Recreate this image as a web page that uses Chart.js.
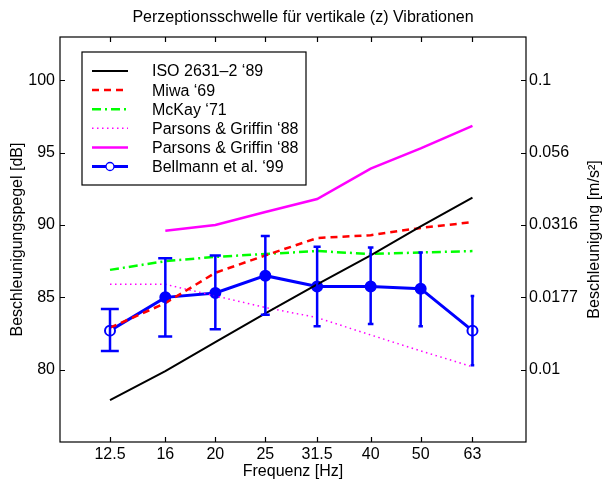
<!DOCTYPE html>
<html>
<head>
<meta charset="utf-8">
<script src="https://cdn.jsdelivr.net/npm/chart.js@4/dist/chart.umd.min.js"></script>
<style>
html, body { margin: 0; padding: 0; background: #fff; }
#wrap { width: 606px; height: 480px; position: relative; }
</style>
</head>
<body>
<div id="wrap"><canvas id="chart"></canvas></div>
<script>
// third-octave centre frequencies [Hz]
const freqs = [12.5, 16, 20, 25, 31.5, 40, 50, 63];

// perception thresholds [dB]
const iso = [77.9, 79.9, 81.9, 83.9, 85.9, 87.9, 89.9, 91.9];
const miwa = [82.9, 84.6, 86.7, 87.9, 89.1, 89.3, 89.8, 90.2];
const mckay = [86.9, 87.5, 87.8, 88.0, 88.2, 88.0, 88.1, 88.2];
const parsonsDot = [85.9, 85.9, 85.1, 84.3, 83.6, 82.4, 81.3, 80.2];
const parsonsSolid = [null, 89.6, 90.0, 90.9, 91.8, 93.9, 95.3, 96.85];
const bellmann = [82.7, 85.0, 85.3, 86.5, 85.75, 85.75, 85.6, 82.7];
const bellmannLo = [81.3, 82.3, 82.8, 83.8, 83.0, 83.15, 83.0, 80.3];
const bellmannHi = [84.2, 87.7, 87.9, 89.25, 88.5, 88.45, 88.1, 85.1];

// axis ticks
const dbTicks = [80, 85, 90, 95, 100];
const accelTicks = ['0.01', '0.0177', '0.0316', '0.056', '0.1'];

const FONT = '"Liberation Sans", Arial, Helvetica, sans-serif';
Chart.defaults.font.family = FONT;
Chart.defaults.font.size = 16;
Chart.defaults.color = '#000';

const pts = (arr) => freqs.map((f, i) => ({ x: f, y: arr[i] }));

// error bars, inward ticks, box, right axis title and legend
const extras = {
    id: 'extras',
    afterDatasetsDraw(chart) {
        const ctx = chart.ctx;
        const xs = chart.scales.x, ys = chart.scales.y;
        ctx.save();
        ctx.strokeStyle = '#0000ff';
        ctx.lineWidth = 2.5;
        freqs.forEach((f, i) => {
            const px = xs.getPixelForValue(f);
            const yl = ys.getPixelForValue(bellmannLo[i]);
            const yh = ys.getPixelForValue(bellmannHi[i]);
            const x0 = xs.getPixelForValue(f - 0.5), x1 = xs.getPixelForValue(f + 0.5);
            ctx.beginPath();
            ctx.moveTo(px, yl); ctx.lineTo(px, yh);
            ctx.moveTo(x0, yl); ctx.lineTo(x1, yl);
            ctx.moveTo(x0, yh); ctx.lineTo(x1, yh);
            ctx.stroke();
        });
        ctx.restore();
    },
    afterDraw(chart) {
        const ctx = chart.ctx;
        const a = chart.chartArea;
        const xs = chart.scales.x, ys = chart.scales.y;
        ctx.save();
        ctx.strokeStyle = '#000';
        ctx.lineWidth = 1.2;
        ctx.strokeRect(a.left, a.top, a.right - a.left, a.bottom - a.top);
        ctx.beginPath();
        freqs.forEach(f => {
            const px = Math.round(xs.getPixelForValue(f)) + 0.5;
            ctx.moveTo(px, a.bottom); ctx.lineTo(px, a.bottom - 5);
            ctx.moveTo(px, a.top); ctx.lineTo(px, a.top + 5);
        });
        dbTicks.forEach(v => {
            const py = Math.round(ys.getPixelForValue(v)) + 0.5;
            ctx.moveTo(a.left, py); ctx.lineTo(a.left + 5, py);
            ctx.moveTo(a.right, py); ctx.lineTo(a.right - 5, py);
        });
        ctx.stroke();

        // right axis title, reading bottom to top
        ctx.fillStyle = '#000';
        ctx.font = '16px ' + FONT;
        ctx.textAlign = 'center';
        ctx.textBaseline = 'middle';
        ctx.translate(595, (a.top + a.bottom) / 2);
        ctx.rotate(-Math.PI / 2);
        ctx.fillText('Beschleunigung [m/s²]', 0, 0);
        ctx.restore();

        // legend
        const lx = 82, ly = 52, lw = 224, lh = 133;
        ctx.save();
        ctx.fillStyle = '#fff';
        ctx.fillRect(lx, ly, lw, lh);
        ctx.strokeStyle = '#000';
        ctx.lineWidth = 1.2;
        ctx.strokeRect(lx, ly, lw, lh);
        ctx.font = '16px ' + FONT;
        ctx.textBaseline = 'middle';
        chart.data.datasets.forEach((ds, i) => {
            const y = ly + 19 + i * 19.1;
            ctx.strokeStyle = ds.borderColor;
            ctx.lineWidth = ds.borderWidth;
            ctx.setLineDash(ds.borderDash || []);
            ctx.beginPath();
            ctx.moveTo(92, y); ctx.lineTo(128, y);
            ctx.stroke();
            ctx.setLineDash([]);
            if (ds.legendMarker) {
                ctx.lineWidth = 1.3;
                ctx.fillStyle = '#fff';
                ctx.beginPath();
                ctx.arc(110, y, 4, 0, Math.PI * 2);
                ctx.fill();
                ctx.stroke();
            }
            ctx.fillStyle = '#000';
            ctx.fillText(ds.label, 152, y + 1);
        });
        ctx.restore();
    }
};

new Chart(document.getElementById('chart'), {
    type: 'line',
    data: {
        datasets: [
            { label: 'ISO 2631–2 ‘89', data: pts(iso), borderColor: '#000000', borderWidth: 2, pointRadius: 0 },
            { label: 'Miwa ‘69', data: pts(miwa), borderColor: '#ff0000', borderWidth: 2.5, borderDash: [7, 5], pointRadius: 0 },
            { label: 'McKay ‘71', data: pts(mckay), borderColor: '#00ff00', borderWidth: 2.5, borderDash: [9, 4, 2, 4], pointRadius: 0 },
            { label: 'Parsons & Griffin ‘88', data: pts(parsonsDot), borderColor: '#ff00ff', borderWidth: 1.5, borderDash: [1.5, 3.5], pointRadius: 0 },
            { label: 'Parsons & Griffin ‘88', data: pts(parsonsSolid), borderColor: '#ff00ff', borderWidth: 2.5, pointRadius: 0 },
            {
                label: 'Bellmann et al. ‘99', data: pts(bellmann), borderColor: '#0000ff', borderWidth: 3,
                pointRadius: 5, pointBorderWidth: 2, pointBorderColor: '#0000ff',
                pointBackgroundColor: freqs.map((f, i) => (i === 0 || i === freqs.length - 1) ? '#ffffff' : '#0000ff'),
                legendMarker: true
            }
        ]
    },
    options: {
        responsive: true,
        maintainAspectRatio: false,
        animation: false,
        layout: { padding: 0 },
        plugins: {
            legend: { display: false },
            tooltip: { enabled: false },
            title: {
                display: true,
                text: 'Perzeptionsschwelle für vertikale (z) Vibrationen',
                font: { size: 16, weight: 'normal' },
                color: '#000',
                padding: { top: 8, bottom: 9.8 }
            }
        },
        scales: {
            x: {
                type: 'logarithmic',
                min: 10,
                max: 80,
                grid: { display: false, drawTicks: false },
                border: { display: false },
                afterBuildTicks: (s) => { s.ticks = freqs.map(v => ({ value: v })); },
                afterFit: (s) => { s.height = 38; },
                ticks: { autoSkip: false, maxRotation: 0, padding: 3, callback: (v) => String(v) },
                title: { display: true, text: 'Frequenz [Hz]', font: { size: 16, lineHeight: 1 }, padding: 0 }
            },
            y: {
                type: 'linear',
                position: 'left',
                min: 75,
                max: 103,
                grid: { display: false, drawTicks: false },
                border: { display: false },
                afterBuildTicks: (s) => { s.ticks = dbTicks.map(v => ({ value: v })); },
                afterFit: (s) => { s.width = 60; },
                ticks: { padding: 5 },
                title: { display: true, text: 'Beschleunigungspegel [dB]', padding: { top: 8, bottom: 0 } }
            },
            y2: {
                type: 'linear',
                position: 'right',
                min: 75,
                max: 103,
                grid: { display: false, drawTicks: false },
                border: { display: false },
                afterBuildTicks: (s) => { s.ticks = dbTicks.map(v => ({ value: v })); },
                afterFit: (s) => { s.width = 80; },
                ticks: { padding: 3, callback: (v) => accelTicks[dbTicks.indexOf(v)] }
            }
        }
    },
    plugins: [extras]
});
</script>
</body>
</html>
